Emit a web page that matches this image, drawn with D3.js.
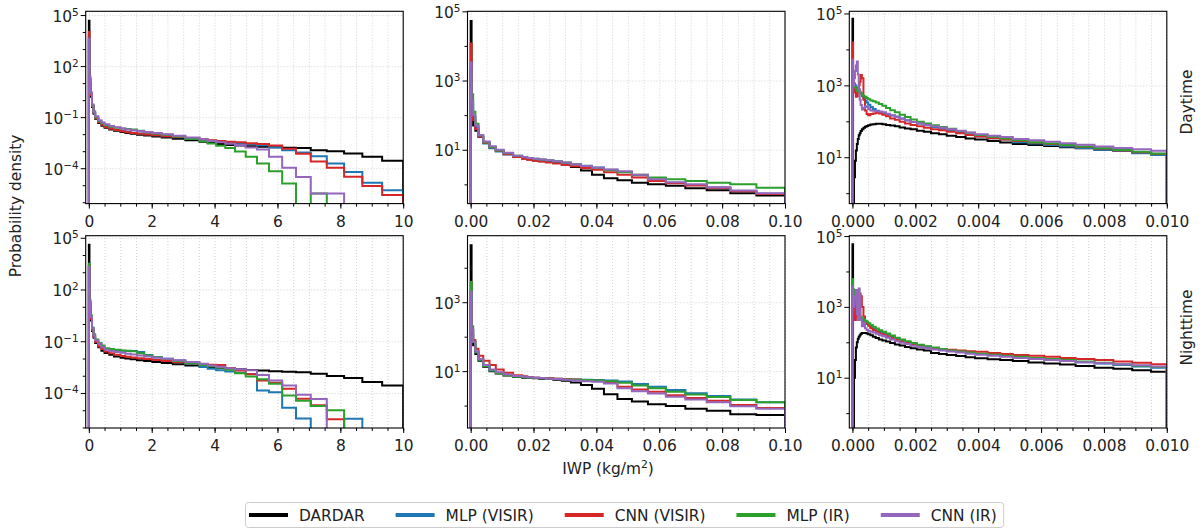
<!DOCTYPE html>
<html>
<head>
<meta charset="utf-8">
<script src="https://cdnjs.cloudflare.com/ajax/libs/d3/7.8.5/d3.min.js"></script>
<style>
  body { margin: 0; background: #fff; }
  svg { display: block; font-family: "DejaVu Sans", sans-serif; }
</style>
</head>
<body>
<svg id="chart" width="1203" height="529"></svg>
<script>
// series + labels
const seriesNames = ["DARDAR", "MLP (VISIR)", "CNN (VISIR)", "MLP (IR)", "CNN (IR)"];
const seriesColors = ["#000000", "#1f77b4", "#d62728", "#2ca02c", "#9467bd"];
const rowLabels = ["Daytime", "Nighttime"];

// histogram bin edges, one set per column (IWP in kg/m2)
const edgesWide = [0, 0.02, 0.05, 0.1, 0.15, 0.2, 0.3, 0.4, 0.5, 0.65, 0.8, 1.01, 1.16, 1.33, 1.53, 1.76, 2.02, 2.32, 2.67, 3.07,
  3.52, 3.78, 4.05, 4.34, 4.65, 4.99, 5.35, 5.73, 6.15, 6.59, 7.06, 7.57, 8.12, 8.70, 9.33, 10];
const edgesMid = [0, 0.0003, 0.0008, 0.0015, 0.0025, 0.004, 0.006, 0.008, 0.0105, 0.0135, 0.0164, 0.018, 0.0198, 0.0218, 0.0239,
  0.0263, 0.029, 0.0319, 0.0351, 0.0386, 0.0424, 0.0467, 0.0513, 0.0564, 0.0621, 0.0683, 0.0751, 0.0826, 0.0909, 0.1];
const edgesNarrow = [0, 0.00002, 0.00005, 0.00008, 0.00011, 0.00014, 0.00017, 0.0002, 0.00023, 0.00026, 0.0003, 0.00035, 0.0004,
  0.00045, 0.0005, 0.00057, 0.00065, 0.00074, 0.00084, 0.00095, 0.00107, 0.0012, 0.00135, 0.0015, 0.00167, 0.00185, 0.00205,
  0.00227, 0.0025, 0.00275, 0.003, 0.0033, 0.0036, 0.0039, 0.0043, 0.0047, 0.0051, 0.0056, 0.0061, 0.0066, 0.0071, 0.0077,
  0.0083, 0.0089, 0.0095, 0.01];

// log10(probability density) per bin; null = empty bin
// order in each: DARDAR, MLP (VISIR), CNN (VISIR), MLP (IR), CNN (IR)
const dayWideLog = [
  [4.66, 1.0, 0.2, -0.4, -0.8, -1.1, -1.35, -1.5, -1.62, -1.72, -1.8, -1.87, -1.93, -1.98, -2.03, -2.08, -2.13, -2.2, -2.27, -2.36, -2.45, -2.52, -2.58, -2.63, -2.67, -2.71, -2.74, -2.77, -2.8, -2.82, -2.94, -3.0, -3.14, -3.33, -3.56],
  [3.8, 1.2, 0.3, -0.35, -0.75, -1.05, -1.28, -1.42, -1.55, -1.65, -1.74, -1.8, -1.86, -1.91, -1.96, -2.0, -2.06, -2.12, -2.18, -2.25, -2.32, -2.38, -2.43, -2.48, -2.53, -2.58, -2.65, -2.78, -2.94, -3.08, -3.3, -3.72, -4.22, -4.86, -5.3],
  [4.0, 1.2, 0.3, -0.35, -0.75, -1.05, -1.3, -1.45, -1.58, -1.68, -1.76, -1.83, -1.88, -1.93, -1.98, -2.02, -2.07, -2.12, -2.17, -2.24, -2.32, -2.36, -2.4, -2.44, -2.48, -2.53, -2.58, -2.66, -2.85, -3.15, -3.6, -3.98, -4.5, -5.04, -5.57],
  [3.5, 1.3, 0.4, -0.3, -0.7, -1.0, -1.22, -1.36, -1.48, -1.57, -1.63, -1.67, -1.7, -1.73, -1.8, -1.88, -1.96, -2.04, -2.14, -2.28, -2.42, -2.55, -2.68, -2.82, -3.02, -3.33, -3.73, -4.18, -4.9, null, -5.48, null, null, null, null],
  [3.6, 1.4, 0.45, -0.25, -0.65, -0.95, -1.18, -1.32, -1.42, -1.52, -1.6, -1.66, -1.72, -1.77, -1.82, -1.87, -1.93, -2.0, -2.1, -2.2, -2.3, -2.4, -2.48, -2.56, -2.65, -2.78, -2.9, -3.33, -3.98, -4.51, -5.49, -5.49, null, null, null]
];
const nightWideLog = [
  [4.6, 1.0, 0.2, -0.4, -0.8, -1.1, -1.35, -1.55, -1.68, -1.78, -1.88, -1.95, -2.0, -2.05, -2.1, -2.14, -2.2, -2.26, -2.33, -2.4, -2.46, -2.5, -2.54, -2.58, -2.62, -2.66, -2.7, -2.74, -2.77, -2.8, -2.88, -3.02, -3.13, -3.36, -3.56],
  [3.3, 1.3, 0.4, -0.25, -0.65, -0.95, -1.15, -1.3, -1.45, -1.5, -1.53, -1.55, -1.56, -1.57, -1.62, -1.8, -1.92, -2.02, -2.12, -2.3, -2.5, -2.6, -2.68, -2.76, -2.83, -2.9, -3.85, -3.95, -4.85, -5.48, null, null, -5.5, null, null],
  [3.4, 1.2, 0.3, -0.35, -0.75, -1.05, -1.3, -1.45, -1.6, -1.7, -1.78, -1.85, -1.9, -1.94, -1.98, -2.03, -2.08, -2.14, -2.2, -2.27, -2.34, -2.36, -2.38, -2.55, -2.7, -2.92, -3.27, -3.4, -3.75, -4.33, -4.71, -5.52, null, null, null],
  [3.5, 1.4, 0.5, -0.2, -0.6, -0.9, -1.1, -1.25, -1.4, -1.45, -1.5, -1.53, -1.55, -1.58, -1.7, -1.82, -1.93, -2.03, -2.15, -2.28, -2.38, -2.45, -2.52, -2.65, -2.85, -3.05, -3.2, -3.46, -4.14, -4.45, -4.75, -5.0, null, null, null],
  [3.3, 1.3, 0.4, -0.25, -0.65, -0.95, -1.15, -1.35, -1.5, -1.57, -1.62, -1.67, -1.72, -1.77, -1.82, -1.88, -1.95, -2.02, -2.1, -2.2, -2.3, -2.4, -2.48, -2.56, -2.62, -2.68, -2.95, -3.27, -3.56, -4.1, -4.35, null, null, null, null]
];
const dayMidLog = [
  [4.72, 1.85, 1.7, 1.55, 1.37, 1.2, 1.06, 0.97, 0.88, 0.8, 0.75, 0.72, 0.69, 0.67, 0.66, 0.62, 0.57, 0.5, 0.4, 0.28, 0.18, 0.12, 0.05, 0.0, -0.04, -0.11, -0.17, -0.26, -0.32],
  [3.3, 2.3, 1.95, 1.65, 1.38, 1.18, 1.04, 0.95, 0.86, 0.8, 0.77, 0.74, 0.72, 0.7, 0.68, 0.65, 0.62, 0.58, 0.54, 0.49, 0.42, 0.36, 0.26, 0.14, 0.05, -0.02, -0.1, -0.19, -0.27],
  [4.07, 2.1, 1.85, 1.6, 1.38, 1.2, 1.07, 0.97, 0.87, 0.79, 0.74, 0.71, 0.68, 0.66, 0.63, 0.6, 0.56, 0.52, 0.47, 0.42, 0.35, 0.28, 0.2, 0.1, 0.03, -0.03, -0.1, -0.2, -0.28],
  [3.3, 2.6, 2.1, 1.75, 1.42, 1.22, 1.08, 0.98, 0.9, 0.83, 0.79, 0.76, 0.74, 0.72, 0.7, 0.67, 0.63, 0.58, 0.53, 0.47, 0.41, 0.35, 0.28, 0.2, 0.15, 0.1, 0.05, 0.0, -0.1],
  [3.53, 2.4, 2.0, 1.7, 1.42, 1.24, 1.1, 1.0, 0.91, 0.83, 0.79, 0.76, 0.74, 0.72, 0.7, 0.67, 0.63, 0.58, 0.53, 0.48, 0.43, 0.38, 0.28, 0.15, 0.06, 0.0, -0.08, -0.18, -0.26]
];
const nightMidLog = [
  [4.65, 2.05, 1.75, 1.5, 1.3, 1.13, 1.0, 0.93, 0.87, 0.83, 0.81, 0.8, 0.79, 0.78, 0.77, 0.75, 0.72, 0.67, 0.6, 0.49, 0.33, 0.19, 0.12, 0.04, -0.01, -0.09, -0.15, -0.25, -0.27],
  [3.3, 2.2, 1.85, 1.55, 1.33, 1.15, 1.02, 0.95, 0.89, 0.85, 0.83, 0.82, 0.81, 0.8, 0.79, 0.78, 0.77, 0.76, 0.75, 0.74, 0.73, 0.7, 0.63, 0.55, 0.45, 0.36, 0.28, 0.18, 0.1],
  [3.0, 2.2, 1.9, 1.65, 1.45, 1.3, 1.18, 1.05, 0.95, 0.88, 0.85, 0.83, 0.81, 0.8, 0.79, 0.78, 0.77, 0.76, 0.74, 0.72, 0.66, 0.55, 0.47, 0.4, 0.3, 0.22, 0.14, 0.02, -0.07],
  [3.59, 2.3, 1.85, 1.55, 1.33, 1.15, 1.02, 0.94, 0.88, 0.84, 0.82, 0.81, 0.8, 0.79, 0.78, 0.77, 0.76, 0.75, 0.74, 0.73, 0.71, 0.66, 0.58, 0.5, 0.4, 0.32, 0.25, 0.16, 0.1],
  [3.3, 2.2, 1.85, 1.57, 1.35, 1.18, 1.05, 0.97, 0.9, 0.86, 0.84, 0.82, 0.81, 0.8, 0.78, 0.77, 0.75, 0.73, 0.71, 0.69, 0.64, 0.5, 0.42, 0.35, 0.26, 0.18, 0.1, -0.02, -0.09]
];
const dayNarrowLog = [
  [4.85, -0.7, 0.44, 0.9, 1.19, 1.37, 1.51, 1.61, 1.67, 1.73, 1.78, 1.82, 1.85, 1.87, 1.89, 1.91, 1.92, 1.93, 1.93, 1.92, 1.9, 1.88, 1.86, 1.83, 1.8, 1.78, 1.74, 1.71, 1.67, 1.64, 1.6, 1.56, 1.52, 1.49, 1.45, 1.41, 1.37, 1.34, 1.31, 1.28, 1.25, 1.21, 1.18, 1.14, 1.1],
  [3.5, 3.2, 3.05, 3.0, 2.95, 2.92, 2.9, 2.87, 2.82, 2.77, 2.7, 2.64, 2.58, 2.52, 2.46, 2.4, 2.34, 2.29, 2.25, 2.21, 2.18, 2.16, 2.13, 2.08, 2.03, 1.98, 1.94, 1.89, 1.84, 1.79, 1.74, 1.68, 1.63, 1.58, 1.53, 1.49, 1.42, 1.38, 1.34, 1.3, 1.26, 1.21, 1.17, 1.11, 1.06],
  [4.19, 3.3, 2.9, 2.8, 2.68, 2.7, 2.85, 3.0, 3.1, 3.29, 3.2, 2.6, 2.3, 2.2, 2.17, 2.2, 2.22, 2.24, 2.22, 2.18, 2.14, 2.08, 2.04, 1.99, 1.94, 1.9, 1.86, 1.82, 1.78, 1.75, 1.71, 1.67, 1.62, 1.58, 1.53, 1.49, 1.45, 1.41, 1.37, 1.33, 1.29, 1.24, 1.19, 1.14, 1.09],
  [3.1, 3.05, 3.0, 2.95, 2.9, 2.85, 2.83, 2.82, 2.8, 2.77, 2.73, 2.7, 2.68, 2.65, 2.61, 2.58, 2.56, 2.52, 2.48, 2.43, 2.37, 2.31, 2.25, 2.18, 2.12, 2.05, 1.99, 1.94, 1.89, 1.84, 1.79, 1.73, 1.68, 1.62, 1.57, 1.52, 1.47, 1.42, 1.38, 1.34, 1.3, 1.25, 1.2, 1.15, 1.1],
  [3.71, 3.0, 3.2, 3.4, 3.55, 3.66, 3.3, 2.9, 2.6, 2.45, 2.33, 2.38, 2.42, 2.4, 2.34, 2.3, 2.29, 2.28, 2.27, 2.25, 2.21, 2.17, 2.12, 2.07, 2.02, 1.98, 1.94, 1.9, 1.86, 1.82, 1.78, 1.74, 1.69, 1.64, 1.6, 1.56, 1.51, 1.47, 1.43, 1.39, 1.35, 1.3, 1.26, 1.22, 1.18]
];
const nightNarrowLog = [
  [4.77, -0.7, 1.0, 1.5, 1.85, 2.0, 2.1, 2.16, 2.2, 2.24, 2.26, 2.26, 2.26, 2.25, 2.23, 2.2, 2.16, 2.12, 2.08, 2.05, 2.02, 1.98, 1.94, 1.91, 1.87, 1.83, 1.8, 1.77, 1.7, 1.67, 1.64, 1.61, 1.58, 1.55, 1.52, 1.5, 1.47, 1.43, 1.4, 1.37, 1.33, 1.28, 1.25, 1.21, 1.17],
  [3.4, 3.2, 3.1, 3.0, 2.9, 2.82, 2.76, 2.72, 2.68, 2.65, 2.62, 2.59, 2.56, 2.52, 2.48, 2.43, 2.38, 2.33, 2.29, 2.25, 2.21, 2.16, 2.11, 2.06, 2.01, 1.96, 1.92, 1.88, 1.84, 1.8, 1.76, 1.73, 1.7, 1.67, 1.64, 1.61, 1.58, 1.55, 1.51, 1.48, 1.44, 1.4, 1.36, 1.32, 1.28],
  [3.4, 3.2, 2.9, 2.63, 2.7, 2.8, 3.0, 3.3, 3.38, 3.3, 3.0, 2.73, 2.6, 2.54, 2.47, 2.4, 2.35, 2.3, 2.25, 2.21, 2.17, 2.12, 2.07, 2.03, 1.99, 1.93, 1.9, 1.87, 1.84, 1.81, 1.79, 1.77, 1.75, 1.73, 1.7, 1.67, 1.64, 1.62, 1.59, 1.56, 1.53, 1.5, 1.46, 1.42, 1.38],
  [3.78, 3.5, 3.3, 3.15, 3.05, 2.95, 2.87, 2.8, 2.75, 2.71, 2.67, 2.64, 2.61, 2.58, 2.54, 2.49, 2.44, 2.39, 2.34, 2.3, 2.25, 2.19, 2.13, 2.08, 2.03, 1.98, 1.93, 1.89, 1.85, 1.81, 1.77, 1.74, 1.71, 1.68, 1.65, 1.62, 1.59, 1.56, 1.53, 1.5, 1.46, 1.42, 1.38, 1.34, 1.3],
  [3.57, 3.0, 3.3, 3.2, 3.48, 2.8, 2.63, 3.52, 3.3, 2.63, 2.45, 2.55, 2.4, 2.35, 2.32, 2.3, 2.28, 2.24, 2.2, 2.17, 2.13, 2.08, 2.03, 1.99, 1.95, 1.9, 1.87, 1.84, 1.8, 1.77, 1.74, 1.71, 1.68, 1.65, 1.62, 1.59, 1.56, 1.53, 1.5, 1.47, 1.44, 1.41, 1.38, 1.35, 1.32]
];

// tick values + labels
const wideTicks = [0, 2, 4, 6, 8, 10];
const wideTickLabels = ["0", "2", "4", "6", "8", "10"];
const midTicks = [0, 0.02, 0.04, 0.06, 0.08, 0.1];
const midTickLabels = ["0.00", "0.02", "0.04", "0.06", "0.08", "0.10"];
const narrowTicks = [0, 0.002, 0.004, 0.006, 0.008, 0.01];
const narrowTickLabels = ["0.000", "0.002", "0.004", "0.006", "0.008", "0.010"];
const wideYExp = [5, 2, -1, -4];
const narrowYExp = [5, 3, 1];

// axis limits as log10 exponents [bottom, top], by row then column
const yLimits = [
  [[-6.08, 5.22], [-0.556, 5.0], [-0.29, 5.06]],
  [[-6.03, 5.12], [-0.65, 4.93], [-0.42, 5.01]]
];

const toDensity = arr => arr.map(v => v === null ? 0 : Math.pow(10, v));

const columns = [
  { edges: edgesWide, xDomain: [-0.1, 10], ticks: wideTicks, labels: wideTickLabels, minorStep: 0.5, yExp: wideYExp, data: [dayWideLog, nightWideLog] },
  { edges: edgesMid, xDomain: [-0.001, 0.1], ticks: midTicks, labels: midTickLabels, minorStep: 0.005, yExp: narrowYExp, data: [dayMidLog, nightMidLog] },
  { edges: edgesNarrow, xDomain: [-0.0001, 0.01], ticks: narrowTicks, labels: narrowTickLabels, minorStep: 0.0005, yExp: narrowYExp, data: [dayNarrowLog, nightNarrowLog] }
];

const svg = d3.select('#chart');
const fs = 15.4;
const txtColor = '#222';
const panelLeft = [85.7, 467.5, 849.3];
const panelWidth = 317.5;
const panelTop = [11.3, 235.7];
const panelHeight = 192.3;

function supLabel(sel, exp) {
  sel.append('tspan').text('10');
  sel.append('tspan').attr('font-size', fs * 0.68).attr('dy', -6)
    .text(exp < 0 ? '\u2212' + Math.abs(exp) : String(exp));
}

function drawPanel(row, col) {
  const c = columns[col];
  const left = panelLeft[col], top = panelTop[row];
  const lim = yLimits[row][col];
  const x = d3.scaleLinear().domain(c.xDomain).range([0, panelWidth]);
  const y = d3.scaleLog().domain([Math.pow(10, lim[0]), Math.pow(10, lim[1])]).range([panelHeight, 0]);
  const g = svg.append('g').attr('transform', `translate(${left},${top})`);
  const xMax = c.xDomain[1];
  const xMinor = d3.range(0, xMax + c.minorStep / 2, c.minorStep);
  const yMajor = c.yExp.filter(e => e >= lim[0] && e <= lim[1] + 1e-6).map(e => Math.pow(10, e));
  const yMinor = d3.range(Math.ceil(lim[0]), Math.floor(lim[1] + 1e-6) + 1)
    .filter(e => c.yExp.indexOf(e) < 0).map(e => Math.pow(10, e));

  // grid
  const grid = g.append('g');
  grid.append('g').attr('transform', `translate(0,${panelHeight})`)
    .call(d3.axisBottom(x).tickValues(xMinor).tickSize(-panelHeight).tickFormat(''));
  grid.append('g')
    .call(d3.axisLeft(y).tickValues(yMajor).tickSize(-panelWidth).tickFormat(''));
  grid.selectAll('.domain').remove();
  grid.selectAll('line').attr('stroke', '#c8c8c8').attr('stroke-width', 0.8).attr('stroke-dasharray', '1,2');

  // histogram steps
  const clipId = `clip-${row}-${col}`;
  g.append('clipPath').attr('id', clipId).append('rect')
    .attr('width', panelWidth).attr('height', panelHeight);
  const line = d3.line()
    .x(d => x(d[0]))
    .y(d => d[1] > 0 ? y(d[1]) : panelHeight + 20);
  const lines = g.append('g').attr('clip-path', `url(#${clipId})`);
  c.data[row].forEach((logVals, s) => {
    const vals = toDensity(logVals);
    const e = c.edges;
    const pts = [[e[0], 0]];
    vals.forEach((v, i) => { pts.push([e[i], v]); pts.push([e[i + 1], v]); });
    pts.push([e[e.length - 1], 0]);
    lines.append('path').attr('d', line(pts))
      .attr('fill', 'none').attr('stroke', seriesColors[s]).attr('stroke-width', 2)
      .attr('stroke-linejoin', 'miter');
  });

  // x ticks
  const xAx = g.append('g').attr('transform', `translate(0,${panelHeight})`);
  xAx.append('g').call(d3.axisBottom(x).tickValues(xMinor).tickSize(3).tickFormat(''));
  xAx.append('g').call(d3.axisBottom(x).tickValues(c.ticks).tickSize(5).tickPadding(7)
    .tickFormat((d, i) => c.labels[i]));
  xAx.selectAll('.domain').remove();
  xAx.selectAll('line').attr('stroke', '#000').attr('stroke-width', 1);
  xAx.selectAll('text').attr('font-size', fs).attr('font-family', '"DejaVu Sans"').attr('fill', txtColor);

  // y ticks with 10^n labels
  const yAx = g.append('g');
  yAx.append('g').call(d3.axisLeft(y).tickValues(yMinor).tickSize(3).tickFormat(''));
  yAx.append('g').attr('class', 'ymaj').call(d3.axisLeft(y).tickValues(yMajor).tickSize(5).tickFormat(''));
  yAx.selectAll('.domain').remove();
  yAx.selectAll('line').attr('stroke', '#000').attr('stroke-width', 1);
  yAx.select('.ymaj').selectAll('.tick').each(function (d) {
    const t = d3.select(this).append('text')
      .attr('x', -7).attr('y', 6).attr('text-anchor', 'end')
      .attr('font-size', fs).attr('font-family', '"DejaVu Sans"').attr('fill', txtColor);
    supLabel(t, Math.round(Math.log10(d)));
  });

  // frame
  g.append('rect').attr('width', panelWidth).attr('height', panelHeight)
    .attr('fill', 'none').attr('stroke', '#000').attr('stroke-width', 1.1);

  if (col === 2) {
    const cy = row === 0 ? 102 : 327.5;
    svg.append('text').attr('transform', `translate(1187,${cy}) rotate(-90)`)
      .attr('text-anchor', 'middle').attr('dy', '0.35em')
      .attr('font-size', fs).attr('fill', txtColor).text(rowLabels[row]);
  }
}

for (let r = 0; r < 2; r++) {
  for (let c = 0; c < 3; c++) drawPanel(r, c);
}

// shared axis labels
svg.append('text').attr('transform', 'translate(16,206) rotate(-90)')
  .attr('text-anchor', 'middle').attr('dy', '0.35em')
  .attr('font-size', fs).attr('fill', txtColor).text('Probability density');

const xl = svg.append('text').attr('x', 608).attr('y', 473.5).attr('text-anchor', 'middle')
  .attr('font-size', fs).attr('fill', txtColor);
xl.append('tspan').text('IWP (kg/m');
xl.append('tspan').attr('font-size', fs * 0.7).attr('dy', -6).text('2');
xl.append('tspan').attr('dy', 6).text(')');

// legend
const leg = svg.append('g');
const legBox = leg.append('rect').attr('x', 245.5).attr('y', 502.5).attr('height', 25)
  .attr('rx', 3).attr('fill', '#fff').attr('stroke', '#cccccc').attr('stroke-width', 1);
let lx = 249;
seriesNames.forEach((name, i) => {
  leg.append('line').attr('x1', lx).attr('x2', lx + 39).attr('y1', 515).attr('y2', 515)
    .attr('stroke', seriesColors[i]).attr('stroke-width', 4);
  const t = leg.append('text').attr('x', lx + 50).attr('y', 520.5)
    .attr('font-size', fs).attr('fill', txtColor).text(name);
  lx = lx + 50 + t.node().getComputedTextLength() + 31;
});
legBox.attr('width', lx - 31 + 7 - 245.5);
</script>
</body>
</html>
